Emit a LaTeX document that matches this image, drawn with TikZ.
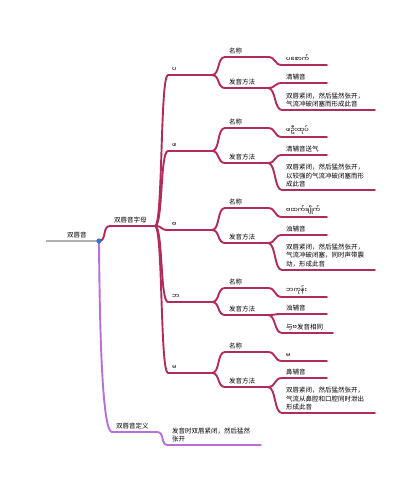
\documentclass[tikz,border=0pt]{standalone}
\usepackage{fontspec}
\setmainfont{Noto Sans CJK SC}
\newfontfamily\mya[Script=Myanmar]{Noto Sans Myanmar UI}
\usetikzlibrary{calc}
\definecolor{letterline}{RGB}{176, 44, 92}
\definecolor{defline}{RGB}{182, 112, 214}
\definecolor{rootline}{RGB}{178, 178, 178}
\definecolor{rootdot}{RGB}{52, 116, 206}
\tikzset{
    x=1pt, y=-1pt,
    every node/.style={font=\fontsize{6.5}{8.2}\selectfont},
    letters/.style={draw=letterline, line width=1.9pt, line cap=round},
    define/.style={draw=defline, line width=1.9pt, line cap=round},
    link/.style={to path={.. controls ($(\tikztostart)+(8,0)$) and
        ($(\tikztotarget)+(-8,0)$) .. (\tikztotarget)}},
    lbl/.style={anchor=south west, inner sep=0pt, align=left, xshift=4pt,
        yshift=3pt},
}
% one topic: underline from x0 to x1 at height y, text above its start
\newcommand{\topic}[6]{%
    \coordinate (#1-s) at (#3, #5);
    \coordinate (#1-e) at (#4, #5);
    \draw[#2] (#1-s) -- (#1-e);
    \node[lbl] (#1) at (#1-s) {#6};
}

\begin{document}
\begin{tikzpicture}
        \fill[white] (0, 0) rectangle (420, 499);
        \useasboundingbox (0, 0) rectangle (420, 499);

        % root
        \coordinate (root-s) at (46, 241);
        \coordinate (root) at (99, 241);
        \draw[rootline, line width=1.4pt] (root-s) -- (root);
        \node[lbl, xshift=0pt] (rootlabel) at (63, 241) {双唇音};

        \topic{zimu}{letters}{110}{155}{226}{双唇音字母}
        \topic{dingyi}{define}{112}{157}{432}{双唇音定义}
        \topic{dingyi-a}{define}{168}{261}{445}{发音时双唇紧闭，然后猛然\\张开}
        \draw[letters] (root) to[link] (zimu-s);
        \draw[define] (root) .. controls +(1, 140) and +(-7, 0) .. (dingyi-s);
        \draw[define] (dingyi-e) to[link] (dingyi-a-s);

        % letters
        \topic{pa}{letters}{168}{212}{75}{\mya ပ}
        \topic{pa-name}{letters}{225}{268}{57}{名称}
        \topic{pa-way}{letters}{225}{268}{88}{发音方法}
        \topic{pa-name-v}{letters}{282}{327}{65}{\mya ပစောက်}
        \topic{pa-way-a}{letters}{282}{327}{83}{清辅音}
        \topic{pa-way-b}{letters}{282}{375}{110}{双唇紧闭，然后猛然张开，\\气流冲破闭塞而形成此音}

        \topic{pha}{letters}{168}{212}{151}{\mya ဖ}
        \topic{pha-name}{letters}{225}{268}{128}{名称}
        \topic{pha-way}{letters}{225}{268}{163}{发音方法}
        \topic{pha-name-v}{letters}{282}{327}{137}{\mya ဖဦးထုပ်}
        \topic{pha-way-a}{letters}{282}{327}{155}{清辅音送气}
        \topic{pha-way-b}{letters}{282}{375}{190}{双唇紧闭，然后猛然张开，\\以较强的气流冲破闭塞而形\\成此音}

        \topic{ba}{letters}{168}{212}{230}{\mya ဗ}
        \topic{ba-name}{letters}{225}{268}{208}{名称}
        \topic{ba-way}{letters}{225}{268}{243}{发音方法}
        \topic{ba-name-v}{letters}{282}{327}{217}{\mya ဗထက်ချိုက်}
        \topic{ba-way-a}{letters}{282}{327}{235}{浊辅音}
        \topic{ba-way-b}{letters}{282}{375}{270}{双唇紧闭，然后猛然张开，\\气流冲破闭塞，同时声带震\\动，形成此音}

        \topic{bha}{letters}{168}{212}{302}{\mya ဘ}
        \topic{bha-name}{letters}{225}{268}{288}{名称}
        \topic{bha-way}{letters}{225}{268}{315}{发音方法}
        \topic{bha-name-v}{letters}{282}{327}{297}{\mya ဘကုန်း}
        \topic{bha-way-a}{letters}{282}{327}{314}{浊辅音}
        \topic{bha-way-b}{letters}{282}{333}{333}{与{\mya ဗ}发音相同}

        \topic{ma}{letters}{168}{212}{373}{\mya မ}
        \topic{ma-name}{letters}{225}{268}{352}{名称}
        \topic{ma-way}{letters}{225}{268}{387}{发音方法}
        \topic{ma-name-v}{letters}{282}{327}{361}{\mya မ}
        \topic{ma-way-a}{letters}{282}{327}{378}{鼻辅音}
        \topic{ma-way-b}{letters}{282}{375}{413}{双唇紧闭，然后猛然张开，\\气流从鼻腔和口腔同时泄出\\形成此音}

        \foreach \l in {pa, pha, ba, bha, ma} {
            \draw[letters] (zimu-e) to[link] (\l-s);
            \draw[letters] (\l-e) to[link] (\l-name-s);
            \draw[letters] (\l-e) to[link] (\l-way-s);
            \draw[letters] (\l-name-e) to[link] (\l-name-v-s);
            \draw[letters] (\l-way-e) to[link] (\l-way-a-s);
            \draw[letters] (\l-way-e) to[link] (\l-way-b-s);
        }

        \fill[rootdot] (root) circle (2.6);
    \end{tikzpicture}
\end{document}
